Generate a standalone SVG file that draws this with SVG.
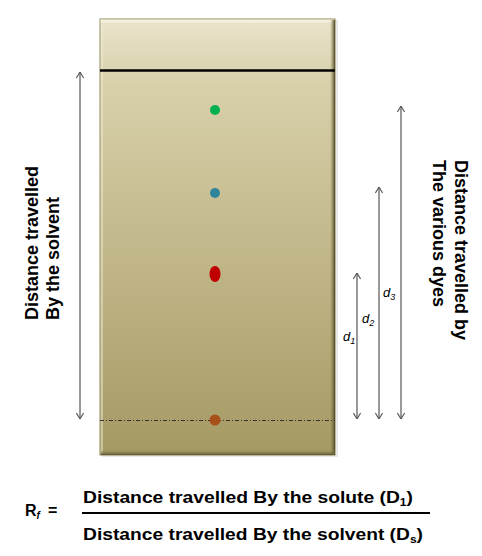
<svg xmlns="http://www.w3.org/2000/svg" width="482" height="556" viewBox="0 0 482 556">
<style>
text{font-family:"Liberation Sans",Arial,sans-serif;fill:#000}
.lbl{font-size:18px;font-weight:bold}
.dl{font-size:13px;font-style:italic}
.sub{font-size:9px}
.fm{font-size:16px;font-weight:bold}
.fsub{font-size:10px}
.arr{stroke:#555;stroke-width:1.2;fill:none;marker-start:url(#ah);marker-end:url(#ah)}
</style>
<defs>
<linearGradient id="plate" x1="0" y1="0" x2="0" y2="1">
<stop offset="0" stop-color="#e9e4cb"/>
<stop offset="0.15" stop-color="#d8d0aa"/>
<stop offset="1" stop-color="#a59963"/>
</linearGradient>
<linearGradient id="rshade" x1="0" y1="0" x2="1" y2="0">
<stop offset="0" stop-color="#8a7f4c" stop-opacity="0"/>
<stop offset="1" stop-color="#4f4828"/>
</linearGradient>
<linearGradient id="bshade" x1="0" y1="0" x2="0" y2="1">
<stop offset="0" stop-color="#8a7f4c" stop-opacity="0"/>
<stop offset="1" stop-color="#5e5632"/>
</linearGradient>
<marker id="ah" viewBox="0 0 10 10" refX="9.5" refY="5" markerWidth="8" markerHeight="9" markerUnits="userSpaceOnUse" orient="auto-start-reverse">
<path d="M2,0.5 L9.5,5 L2,9.5" fill="none" stroke="#555" stroke-width="1.4"/>
</marker>
</defs>
<g id="plate-node">
<rect x="102" y="20" width="236" height="437" fill="#d8d8d8" opacity="0.6"/>
<rect x="100" y="19" width="235" height="436" fill="url(#plate)" stroke="#8c8355" stroke-width="1"/>
<rect x="100.5" y="19.5" width="234" height="3" fill="#f6f3e4" opacity="0.8"/>
<rect x="100.5" y="19.5" width="2.5" height="435" fill="#f0ecd6" opacity="0.5"/>
<rect x="330" y="20" width="5" height="435" fill="url(#rshade)"/>
<rect x="101" y="450" width="234" height="5" fill="url(#bshade)"/>
<line x1="100" y1="70.5" x2="335" y2="70.5" stroke="#000" stroke-width="2.5"/>
<line x1="100" y1="420.5" x2="335" y2="420.5" stroke="#333" stroke-width="1" stroke-dasharray="4 2 1 2"/>
</g>
<g id="spot-green"><circle cx="215" cy="110" r="5" fill="#00b050"/></g>
<g id="spot-blue"><circle cx="215" cy="193" r="5" fill="#31849b"/></g>
<g id="spot-red"><ellipse cx="215" cy="274" rx="5.5" ry="8" fill="#c00000"/></g>
<g id="spot-brown"><circle cx="215" cy="420" r="5.5" fill="#a8501a"/></g>
<g id="connectors">
<line class="arr" x1="80" y1="72" x2="80" y2="419"/>
<line class="arr" x1="357" y1="273" x2="357" y2="419"/>
<line class="arr" x1="379" y1="187" x2="379" y2="419"/>
<line class="arr" x1="401" y1="106" x2="401" y2="419"/>
</g>
<g id="label-solvent">
<text class="lbl" transform="translate(38 320) rotate(-90)">Distance travelled</text>
<text class="lbl" transform="translate(59 320) rotate(-90)">By the solvent</text>
</g>
<g id="label-dyes">
<text class="lbl" transform="translate(455 160) rotate(90)">Distance travelled by</text>
<text class="lbl" transform="translate(433 160) rotate(90)">The various dyes</text>
</g>
<g id="label-d1"><text class="dl" x="343" y="341">d<tspan class="sub" dy="3">1</tspan></text></g>
<g id="label-d2"><text class="dl" x="362" y="323">d<tspan class="sub" dy="3">2</tspan></text></g>
<g id="label-d3"><text class="dl" x="383" y="297">d<tspan class="sub" dy="3">3</tspan></text></g>
<g id="formula">
<text class="fm" x="25" y="516">R<tspan class="fsub" font-style="italic" dy="3">f</tspan><tspan dy="-3" dx="8">=</tspan></text>
<text class="fm" x="83" y="503" textLength="330" lengthAdjust="spacingAndGlyphs">Distance travelled By the solute (D<tspan class="fsub" dy="3">1</tspan><tspan dy="-3">)</tspan></text>
<line x1="82" y1="513" x2="430" y2="513" stroke="#000" stroke-width="2"/>
<text class="fm" x="83" y="540" textLength="340" lengthAdjust="spacingAndGlyphs">Distance travelled By the solvent (D<tspan class="fsub" dy="3">s</tspan><tspan dy="-3">)</tspan></text>
</g>
</svg>
